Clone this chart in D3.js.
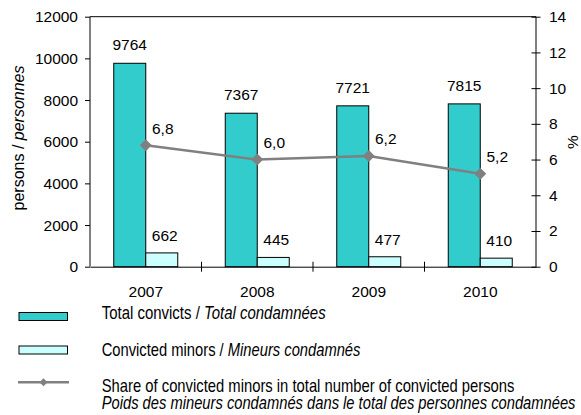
<!DOCTYPE html>
<html><head><meta charset="utf-8">
<script src="https://cdn.jsdelivr.net/npm/d3@7"></script>
<style>
html,body{margin:0;padding:0;background:#fff;}
svg{display:block;font-family:"Liberation Sans",Arial,sans-serif;}
</style></head>
<body>
<svg id="c" width="581" height="415"></svg>
<script>
const years = ["2007","2008","2009","2010"];
const totalConvicts = [9764, 7367, 7721, 7815];
const convictedMinors = [662, 445, 477, 410];
const sharePct = [6.8, 6.0, 6.2, 5.2];
const shareLabels = ["6,8","6,0","6,2","5,2"];
const leftTicks = [0,2000,4000,6000,8000,10000,12000];
const rightTicks = [0,2,4,6,8,10,12,14];

const svg = d3.select("#c");
const L = 90, R = 536, T = 16.7, B = 266.7;
const x = d3.scaleBand().domain(years).range([L, R]);
const yL = d3.scaleLinear().domain([0,12000]).range([B, T]);
const yR = d3.scaleLinear().domain([0,14]).range([B, T]);
const bw = 32;
const teal = "#33CCCC", light = "#CCFFFF", gray = "#808080";
const fs = "15.5px";

// top border
svg.append("line").attr("x1",L).attr("x2",R).attr("y1",T).attr("y2",T).attr("stroke","#000");

// bars
const g = svg.append("g");
g.selectAll("rect.t").data(years).join("rect")
  .attr("x", d => x(d) + x.bandwidth()/2 - bw)
  .attr("y", (d,i) => yL(totalConvicts[i]))
  .attr("width", bw).attr("height", (d,i) => B - yL(totalConvicts[i]))
  .attr("fill", teal).attr("stroke","#000").attr("stroke-width",1);
g.selectAll("rect.m").data(years).join("rect")
  .attr("x", d => x(d) + x.bandwidth()/2)
  .attr("y", (d,i) => yL(convictedMinors[i]))
  .attr("width", bw).attr("height", (d,i) => B - yL(convictedMinors[i]))
  .attr("fill", light).attr("stroke","#000").attr("stroke-width",1);

// bar labels
g.selectAll("text.t").data(years).join("text")
  .attr("x", d => x(d) + x.bandwidth()/2 - bw/2)
  .attr("y", (d,i) => yL(totalConvicts[i]) - 13)
  .attr("text-anchor","middle").attr("font-size",fs)
  .text((d,i) => totalConvicts[i]);
g.selectAll("text.m").data(years).join("text")
  .attr("x", d => x(d) + x.bandwidth()/2 + bw/2 + 3)
  .attr("y", (d,i) => yL(convictedMinors[i]) - 12)
  .attr("text-anchor","middle").attr("font-size",fs)
  .text((d,i) => convictedMinors[i]);

// axes
const axL = svg.append("g").attr("transform",`translate(${L},0)`)
  .call(d3.axisLeft(yL).tickValues(leftTicks).tickSize(5).tickPadding(7).tickFormat(d3.format("d")));
const axR = svg.append("g").attr("transform",`translate(${R},0)`)
  .call(d3.axisRight(yR).tickValues(rightTicks).tickSizeInner(4.5).tickSizeOuter(0).tickPadding(8.5));
axR.selectAll(".tick line").attr("x1",-4.5);
const axB = svg.append("g").attr("transform",`translate(0,${B})`)
  .call(d3.axisBottom(x).tickSize(0).tickPadding(19));
// category boundary ticks
svg.append("g").selectAll("line").data(years.slice(1)).join("line")
  .attr("x1", d => x(d)).attr("x2", d => x(d))
  .attr("y1", B-5).attr("y2", B+5).attr("stroke","#000");
[axL,axR,axB].forEach(a => {
  a.selectAll("text").attr("font-size",fs).attr("fill","#000").attr("font-family","Liberation Sans, Arial, sans-serif");
  a.selectAll("line,path").attr("stroke","#000");
});
axR.select(".domain").attr("d",`M0,${T}V${B}`);
axL.select(".domain").attr("d",`M0,${T}V${B}`);

// line
const lineGen = d3.line().x((d,i) => x(years[i]) + x.bandwidth()/2).y(d => yR(d));
svg.append("path").datum(sharePct).attr("d", lineGen)
  .attr("fill","none").attr("stroke",gray).attr("stroke-width",2.5);
svg.selectAll("path.d").data(sharePct).join("path")
  .attr("d", d3.symbol().type(d3.symbolSquare).size(72))
  .attr("transform",(d,i) => `translate(${x(years[i]) + x.bandwidth()/2},${yR(d)}) rotate(45)`)
  .attr("fill",gray);
svg.selectAll("text.s").data(sharePct).join("text")
  .attr("x",(d,i) => x(years[i]) + x.bandwidth()/2 + 17)
  .attr("y", d => yR(d) - 11.5)
  .attr("text-anchor","middle").attr("font-size",fs)
  .text((d,i) => shareLabels[i]);

// axis titles
svg.append("text").attr("transform","translate(24,138) rotate(-90)")
  .attr("text-anchor","middle").attr("font-size","16px")
  .call(t => { t.append("tspan").text("persons / "); t.append("tspan").attr("font-style","italic").text("personnes"); });
svg.append("text").attr("transform","translate(578,142) rotate(-90)")
  .attr("text-anchor","middle").attr("font-size","15.5px").text("%");

// legend
const lg = svg.append("g");
lg.append("rect").attr("x",19).attr("y",312.5).attr("width",48.5).attr("height",8)
  .attr("fill",teal).attr("stroke","#000");
lg.append("rect").attr("x",19).attr("y",346).attr("width",48.5).attr("height",8)
  .attr("fill",light).attr("stroke","#000");
lg.append("line").attr("x1",18).attr("x2",69).attr("y1",382.3).attr("y2",382.3)
  .attr("stroke",gray).attr("stroke-width",2.5);
lg.append("path").attr("d", d3.symbol().type(d3.symbolSquare).size(32))
  .attr("transform","translate(43.5,382.3) rotate(45)").attr("fill",gray);

function legText(y, parts, targetW){
  const t = lg.append("text").attr("font-size","18px");
  parts.forEach(p => t.append("tspan").attr("font-style", p[1] ? "italic" : null).text(p[0]));
  const w = t.node().getComputedTextLength() || targetW;
  t.attr("transform",`translate(101.7,${y}) scale(${targetW / w},1)`);
}
legText(318.7, [["Total convicts / ",0],["Total condamnées",1]], 224);
legText(355.7, [["Convicted minors / ",0],["Mineurs condamnés",1]], 259);
legText(392.3, [["Share of convicted minors in total number of convicted persons",0]], 413);
legText(409.3, [["Poids des mineurs condamnés dans le total des personnes condamnées",1]], 474);
</script>
</body></html>
